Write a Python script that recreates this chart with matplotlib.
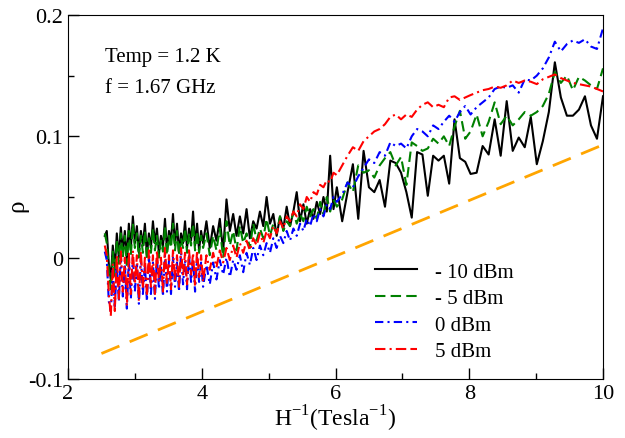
import numpy as np
import matplotlib
matplotlib.use("Agg")
import matplotlib.pyplot as plt
from matplotlib.ticker import MultipleLocator, FuncFormatter

plt.rcParams["font.family"] = ["Liberation Serif", "DejaVu Serif"]
plt.rcParams["mathtext.fontset"] = "custom"
plt.rcParams["mathtext.rm"] = "Liberation Serif"
plt.rcParams["axes.unicode_minus"] = False

# inverse field H^-1 (1/Tesla), shared by all four power levels
inv_field = [
    2.55, 2.58, 2.61, 2.64, 2.67, 2.70, 2.73, 2.76, 2.79, 2.82,
    2.85, 2.88, 2.91, 2.94, 2.97, 3.00, 3.03, 3.06, 3.09, 3.12,
    3.15, 3.18, 3.21, 3.24, 3.27, 3.30, 3.33, 3.36, 3.39, 3.42,
    3.45, 3.48, 3.51, 3.54, 3.57, 3.60, 3.63, 3.66, 3.69, 3.72,
    3.75, 3.78, 3.81, 3.84, 3.87, 3.90, 3.93, 3.96, 3.99, 4.02,
    4.07, 4.12, 4.17, 4.22, 4.27, 4.32, 4.37, 4.42, 4.47, 4.52,
    4.57, 4.62, 4.67, 4.72, 4.77, 4.82, 4.87, 4.92, 4.97, 5.02,
    5.07, 5.12, 5.17, 5.22, 5.27, 5.32, 5.37, 5.42, 5.47, 5.52,
    5.57, 5.62, 5.67, 5.72, 5.77, 5.82, 5.87, 5.92, 5.97, 6.02,
    6.10, 6.18, 6.26, 6.34, 6.42, 6.50, 6.58, 6.66, 6.74, 6.82,
    6.90, 6.98, 7.06, 7.14, 7.22, 7.30, 7.38, 7.46, 7.54, 7.62,
    7.70, 7.78, 7.86, 7.94,
    8.02, 8.11, 8.20, 8.29, 8.38, 8.47, 8.56, 8.65, 8.74, 8.83,
    8.92, 9.01, 9.10, 9.19, 9.28, 9.37, 9.46, 9.55, 9.64, 9.73,
    9.82, 9.91, 10.0,
]

# rho values in units of 1e-3
rho_m10 = [
    18, 22, -5, -18, 10, -10, 20, 0, 25, 5,
    22, -2, 28, 8, 34, 12, 26, 4, 22, 10,
    28, 2, 20, 8, 30, 12, 24, 3, 18, 9,
    32, 6, 22, 14, 36, 10, 28, 4, 20, 12,
    30, 8, 24, 14, 38, 10, 28, 6, 22, 12,
    30, 8, 26, 14, 32, 5, 48, 22, 36, 18,
    34, 20, 40, 16, 30, 24, 38, 26, 50, 28,
    36, 18, 34, 24, 42, 26, 38, 54, 30, 44,
    28, 40, 32, 46, 36, 50, 38, 84, 40, 58,
    30, 54, 77, 32, 88, 58, 54, 64, 42, 80,
    78, 70, 54, 33, 87, 85, 51, 84, 80, 84,
    61, 114, 82, 79,
    69, 70, 92, 85, 114, 84, 129, 88, 99, 91,
    116, 77, 96, 120, 161, 132, 117, 117, 122, 133,
    109, 98, 133,
]
rho_m5 = [
    20, 12, -10, -26, 5, -15, 15, -5, 20, 0,
    18, -6, 22, 2, 28, 8, 20, 0, 18, 4,
    22, -2, 16, 4, 24, 6, 18, 0, 14, 5,
    26, 2, 18, 8, 28, 6, 22, 2, 16, 8,
    24, 4, 20, 10, 28, 6, 22, 4, 18, 8,
    20, 2, 18, 6, 24, 0, 30, 10, 22, 6,
    26, 12, 20, 8, 28, 14, 24, 16, 32, 18,
    28, 20, 34, 22, 30, 26, 38, 28, 36, 30,
    42, 34, 40, 32, 46, 36, 50, 38, 48, 42,
    48, 62, 54, 76, 70, 72, 66, 76, 82, 87,
    76, 83, 60, 95, 92, 88, 90, 98, 94, 100,
    92, 108, 121, 98,
    104, 118, 100, 112, 128, 110, 117, 109, 114, 120,
    117, 120, 125, 135, 153, 144, 150, 138, 149, 146,
    142, 139, 156,
]
rho_0 = [
    5, -2, -36, -44, -10, -40, -5, -36, 2, -32,
    -6, -42, -2, -34, 0, -28, -4, -38, -1, -30,
    -6, -36, 2, -30, -4, -34, 0, -26, -6, -32,
    2, -28, -2, -30, 0, -24, -4, -28, 4, -22,
    -2, -26, 2, -20, -2, -28, 0, -20, -4, -24,
    -6, -22, -4, -18, -2, -14, 0, -16, -2, -10,
    2, -12, 4, -6, 8, -2, 10, 2, 12, 4,
    16, 8, 18, 12, 22, 14, 24, 18, 28, 22,
    32, 26, 36, 30, 40, 34, 44, 40, 50, 46,
    52, 62, 58, 67, 74, 81, 78, 87, 84, 95,
    92, 94, 90, 100, 106, 104, 100, 109, 106, 112,
    117, 112, 120, 125,
    118, 124, 128, 132, 139, 141, 140, 142, 136, 147,
    146, 150, 156, 165, 178, 170, 176, 179, 177, 180,
    174, 172, 189,
]
rho_p5 = [
    10, 2, -30, -48, -5, -44, 2, -34, 6, -28,
    0, -40, 4, -30, 6, -22, 2, -36, 5, -26,
    0, -32, 6, -24, 2, -30, 6, -20, 0, -28,
    8, -22, 2, -26, 6, -18, 2, -24, 8, -16,
    4, -22, 6, -14, 4, -24, 6, -16, 2, -20,
    2, -10, 4, -8, 6, -4, 8, -2, 10, 0,
    12, 4, 14, 6, 16, 10, 20, 12, 22, 16,
    26, 20, 30, 24, 34, 30, 38, 34, 44, 40,
    50, 46, 54, 52, 60, 58, 64, 62, 70, 68,
    76, 84, 91, 88, 96, 100, 104, 106, 110, 116,
    118, 114, 118, 116, 122, 126, 128, 124, 126, 124,
    132, 133, 130, 132,
    134, 136, 138, 139, 141, 140, 142, 146, 144, 146,
    145, 143, 147, 149, 151, 148, 146, 144, 143, 142,
    141, 139, 137,
]

# straight reference line (orange dashes)
ref_x = [2.5, 10.0]
ref_rho = [-0.079, 0.093]

labels = ["- 10 dBm", "- 5 dBm", "0 dBm", "5 dBm"]
series = [rho_m10, rho_m5, rho_0, rho_p5]
colors = ["black", "#008000", "#0000ff", "#ff0000"]
dashes = [None, (5, 2.5), (4, 2, 1, 2), (5, 2, 1, 2, 5, 2)]

fig = plt.figure(figsize=(6.25, 4.39), dpi=100)
ax = fig.add_axes([0.1088, 0.1344, 0.856, 0.8292])

x = np.array(inv_field)
for vals, lab, col, dsh in zip(series, labels, colors, dashes):
    line, = ax.plot(x, np.array(vals) / 1000.0, color=col, lw=1.5, label=lab)
    if dsh is not None:
        line.set_dashes(dsh)

ax.plot(ref_x, ref_rho, color="#ffa500", lw=2.0, dashes=(7, 4))

ax.set_xlim(2, 10)
ax.set_ylim(-0.1, 0.2)
ax.xaxis.set_major_locator(MultipleLocator(2))
ax.xaxis.set_minor_locator(MultipleLocator(1))
ax.yaxis.set_major_locator(MultipleLocator(0.1))
ax.yaxis.set_minor_locator(MultipleLocator(0.05))
ax.yaxis.set_major_formatter(FuncFormatter(lambda v, p: "0" if abs(v) < 1e-9 else f"{v:g}"))
ax.tick_params(which="both", direction="in", top=False, right=False, labelsize=16)
ax.tick_params(which="major", length=8, width=1)
ax.tick_params(which="minor", length=4, width=1)

ax.set_xlabel(r"H$^{-1}$(Tesla$^{-1}$)", fontsize=17, labelpad=0)
ax.set_ylabel(r"ρ", fontsize=18)
ax.yaxis.set_label_coords(-0.075, 0.48)

ax.text(0.069, 0.887, "Temp = 1.2 K", transform=ax.transAxes, fontsize=15, va="center")
ax.text(0.069, 0.802, "f = 1.67 GHz", transform=ax.transAxes, fontsize=15, va="center")

ax.legend(loc="upper left", bbox_to_anchor=(0.555, 0.35), frameon=False,
          fontsize=15, handlelength=2.0, labelspacing=0.33, handletextpad=0.85,
          borderpad=0)

fig.savefig("out.png", dpi=100)
